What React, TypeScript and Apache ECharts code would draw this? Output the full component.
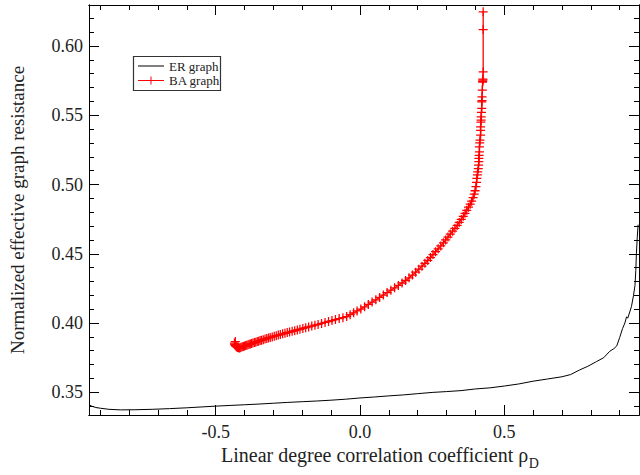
import React, { useEffect, useRef } from "react";
import * as echarts from "echarts";

// ER graph (black line): [rho_D, resistance]
const ER_POINTS = [
  [-0.939, 0.341], [-0.93, 0.34], [-0.915, 0.339], [-0.9, 0.3385], [-0.87, 0.3377], [-0.83, 0.3373], [-0.78, 0.3374],
  [-0.72, 0.3377], [-0.66, 0.3382], [-0.6, 0.3388], [-0.55, 0.3394], [-0.5, 0.34], [-0.45, 0.3405], [-0.4, 0.341],
  [-0.35, 0.3415], [-0.3, 0.3421], [-0.25, 0.3427], [-0.2, 0.3432], [-0.15, 0.3437], [-0.1, 0.3443], [-0.05, 0.345],
  [0.0, 0.3459], [0.05, 0.3466], [0.1, 0.3474], [0.15, 0.3481], [0.2, 0.349], [0.25, 0.3499], [0.3, 0.3505],
  [0.35, 0.3512], [0.4, 0.3524], [0.45, 0.3532], [0.5, 0.3545], [0.55, 0.356], [0.6, 0.358], [0.65, 0.3596],
  [0.7, 0.3612], [0.73, 0.3628], [0.76, 0.366], [0.79, 0.3688], [0.82, 0.3722], [0.845, 0.375], [0.865, 0.3795],
  [0.88, 0.3815], [0.89, 0.3835], [0.9, 0.3895], [0.91, 0.396], [0.918, 0.4], [0.924, 0.4045], [0.928, 0.4035],
  [0.935, 0.408], [0.941, 0.412], [0.948, 0.42], [0.953, 0.427], [0.956, 0.438], [0.958, 0.45], [0.961, 0.462],
  [0.964, 0.471],
];

// BA graph (red line with + markers): [rho_D, resistance]
const BA_POINTS = [
  [-0.432, 0.3866], [-0.435, 0.3855], [-0.434, 0.3845], [-0.432, 0.3838], [-0.43, 0.3832], [-0.427, 0.3827],
  [-0.424, 0.3823], [-0.421, 0.3821], [-0.418, 0.382], [-0.415, 0.3822], [-0.412, 0.3825], [-0.408, 0.3828],
  [-0.404, 0.3831], [-0.4, 0.3834], [-0.396, 0.3837], [-0.392, 0.384], [-0.388, 0.3843], [-0.384, 0.3846],
  [-0.38, 0.3849], [-0.376, 0.3852], [-0.371, 0.3855], [-0.366, 0.3859], [-0.361, 0.3862], [-0.356, 0.3866],
  [-0.351, 0.3869], [-0.346, 0.3873], [-0.341, 0.3876], [-0.335, 0.388], [-0.329, 0.3884], [-0.323, 0.3888],
  [-0.317, 0.3892], [-0.311, 0.3896], [-0.304, 0.39], [-0.297, 0.3905], [-0.29, 0.3909], [-0.283, 0.3913],
  [-0.276, 0.3917], [-0.268, 0.3922], [-0.26, 0.3926], [-0.252, 0.3931], [-0.244, 0.3935], [-0.235, 0.394],
  [-0.226, 0.3945], [-0.217, 0.395], [-0.208, 0.3955], [-0.198, 0.3961], [-0.188, 0.3966], [-0.178, 0.3972],
  [-0.167, 0.3978], [-0.156, 0.3984], [-0.145, 0.399], [-0.133, 0.3997], [-0.121, 0.4004], [-0.109, 0.4011],
  [-0.097, 0.4018], [-0.085, 0.4025], [-0.072, 0.4032], [-0.059, 0.4039], [-0.046, 0.4047], [-0.034, 0.406],
  [-0.022, 0.4074], [-0.01, 0.4087], [0.003, 0.4101], [0.016, 0.4117], [0.029, 0.4134], [0.042, 0.4151],
  [0.055, 0.4168], [0.068, 0.4185], [0.081, 0.4202], [0.094, 0.422], [0.107, 0.4237], [0.12, 0.4254],
  [0.133, 0.4271], [0.146, 0.4289], [0.158, 0.4307], [0.17, 0.4326], [0.182, 0.4346], [0.193, 0.4367],
  [0.204, 0.4389], [0.215, 0.441], [0.225, 0.4431], [0.235, 0.4452], [0.244, 0.4473], [0.253, 0.4494],
  [0.262, 0.4515], [0.271, 0.4536], [0.28, 0.4557], [0.289, 0.4579], [0.297, 0.46], [0.305, 0.4621],
  [0.313, 0.4642], [0.321, 0.4663], [0.329, 0.4684], [0.337, 0.4705], [0.344, 0.4726], [0.351, 0.4748],
  [0.358, 0.477], [0.364, 0.4792], [0.37, 0.4814], [0.376, 0.4836], [0.382, 0.4858], [0.387, 0.488],
  [0.392, 0.4905], [0.396, 0.493], [0.399, 0.4955], [0.402, 0.4985], [0.404, 0.5015], [0.405, 0.5044],
  [0.407, 0.507], [0.408, 0.5092], [0.41, 0.5115], [0.411, 0.514], [0.412, 0.5165], [0.412, 0.5188],
  [0.413, 0.521], [0.414, 0.5235], [0.414, 0.5272], [0.415, 0.53], [0.416, 0.532], [0.418, 0.5356],
  [0.418, 0.539], [0.418, 0.5416], [0.419, 0.545], [0.42, 0.5465], [0.42, 0.5489], [0.421, 0.552],
  [0.422, 0.5549], [0.422, 0.5597], [0.423, 0.5605], [0.423, 0.5633], [0.424, 0.5681], [0.425, 0.574],
  [0.425, 0.5745], [0.426, 0.5753], [0.426, 0.576], [0.427, 0.5814], [0.427, 0.6119], [0.427, 0.6247],
];

// Axis ticks and labels
const X_MAJOR = [-0.5, 0.0, 0.5];
const X_LABELS = ["-0.5", "0.0", "0.5"];
const X_MINOR = [-0.9, -0.8, -0.7, -0.6, -0.4, -0.3, -0.2, -0.1, 0.1, 0.2, 0.3, 0.4, 0.6, 0.7, 0.8, 0.9];
const Y_MAJOR = [0.35, 0.4, 0.45, 0.5, 0.55, 0.6];
const Y_LABELS = ["0.35", "0.40", "0.45", "0.50", "0.55", "0.60"];
const Y_MINOR = [0.34, 0.36, 0.37, 0.38, 0.39, 0.41, 0.42, 0.43, 0.44, 0.46, 0.47, 0.48, 0.49, 0.51, 0.52, 0.53, 0.54, 0.56, 0.57, 0.58, 0.59, 0.61, 0.62];

const X_MIN = -0.939;
const X_MAX = 0.967;
const Y_MIN = 0.3336;
const Y_MAX = 0.6296;

const X_TITLE = "Linear degree correlation coefficient ρ";
const X_TITLE_SUB = "D";
const Y_TITLE = "Normalized effective graph resistance";
const LEGEND = ["ER graph", "BA graph"];

const FONT = "'Liberation Serif', serif";
const PLUS = "path://M0,4.3H10V5.7H0ZM4.3,0H5.7V10H4.3Z";

function measure(text: string, font: string): number {
  const c = document.createElement("canvas").getContext("2d");
  if (!c) return text.length * 8;
  c.font = font;
  return c.measureText(text).width;
}

function axis(position: string, ticks: number[], len: number, min: number, max: number) {
  return {
    type: "value",
    position,
    min,
    max,
    axisLine: { show: true, onZero: false, lineStyle: { color: "#000", width: 1 } },
    axisTick: { show: true, inside: true, length: len, customValues: ticks, lineStyle: { color: "#000", width: 1 } },
    axisLabel: { show: false },
    splitLine: { show: false },
  };
}

function txt(x: number, y: number, text: string, font: string, align: string, vAlign: string, extra: any = {}) {
  return {
    type: "text",
    x,
    y,
    ...extra,
    style: { text, font, fill: "#222", align, verticalAlign: vAlign, textAlign: align, textVerticalAlign: vAlign },
  };
}

export default function App() {
  const ref = useRef<HTMLDivElement>(null);
  useEffect(() => {
    document.body.style.margin = "0";
    if (!ref.current) return;
    const chart = echarts.init(ref.current, null, { renderer: "svg" });
    chart.setOption({
      animation: false,
      backgroundColor: "#fff",
      textStyle: { fontFamily: FONT },
      grid: { left: 89, top: 5, right: 1, bottom: 60, containLabel: false, outerBoundsMode: "none" },
      xAxis: [
        axis("bottom", X_MAJOR, 10, X_MIN, X_MAX),
        axis("bottom", X_MINOR, 5, X_MIN, X_MAX),
        axis("top", X_MAJOR, 10, X_MIN, X_MAX),
        axis("top", X_MINOR, 5, X_MIN, X_MAX),
      ],
      yAxis: [
        axis("left", Y_MAJOR, 10, Y_MIN, Y_MAX),
        axis("left", Y_MINOR, 5, Y_MIN, Y_MAX),
        axis("right", Y_MAJOR, 10, Y_MIN, Y_MAX),
        axis("right", Y_MINOR, 5, Y_MIN, Y_MAX),
      ],
      series: [
        {
          name: LEGEND[0],
          type: "line",
          data: ER_POINTS,
          xAxisIndex: 0,
          yAxisIndex: 0,
          showSymbol: false,
          lineStyle: { color: "#000", width: 1 },
          itemStyle: { color: "#000" },
        },
        {
          name: LEGEND[1],
          type: "line",
          data: BA_POINTS,
          xAxisIndex: 0,
          yAxisIndex: 0,
          symbol: PLUS,
          symbolSize: 9,
          showAllSymbol: true,
          lineStyle: { color: "#f00", width: 1.3 },
          itemStyle: { color: "#f00" },
        },
      ],
    });

    // tick labels placed through the axes' own scales
    const tickFont = `18px ${FONT}`;
    const labelEls: any[] = [];
    X_MAJOR.forEach((v, i) => {
      const p = chart.convertToPixel({ xAxisIndex: 0, yAxisIndex: 0 }, [v, Y_MIN]) as number[];
      labelEls.push(txt(p[0], p[1] + 8, X_LABELS[i], tickFont, "center", "top"));
    });
    Y_MAJOR.forEach((v, i) => {
      const p = chart.convertToPixel({ xAxisIndex: 0, yAxisIndex: 0 }, [X_MIN, v]) as number[];
      labelEls.push(txt(p[0] - 6, p[1], Y_LABELS[i], tickFont, "right", "middle"));
    });

    const xTitleFont = `20px ${FONT}`;
    const yTitleFont = `19px ${FONT}`;
    const titleW = measure(X_TITLE, xTitleFont);
    const titleX = 221;
    const titleY = 455;
    const legFont = `13px ${FONT}`;

    chart.setOption({
      graphic: [
        ...labelEls,
        txt(titleX, titleY, X_TITLE, xTitleFont, "left", "middle"),
        txt(titleX + titleW + 0.5, titleY + 8, X_TITLE_SUB, `14px ${FONT}`, "left", "middle"),
        txt(17, 210, Y_TITLE, yTitleFont, "center", "middle", { rotation: Math.PI / 2 }),
        {
          type: "rect",
          z: 100,
          shape: { x: 133.5, y: 56.5, width: 87, height: 34 },
          style: { fill: "#fff", stroke: "#333", lineWidth: 1.2 },
        },
        { type: "line", z: 101, shape: { x1: 138, y1: 66, x2: 164, y2: 66 }, style: { stroke: "#000", lineWidth: 1 } },
        { type: "line", z: 101, shape: { x1: 138, y1: 80.5, x2: 164, y2: 80.5 }, style: { stroke: "#f00", lineWidth: 1 } },
        { type: "line", z: 101, shape: { x1: 151, y1: 76.5, x2: 151, y2: 84.5 }, style: { stroke: "#f00", lineWidth: 1 } },
        txt(169, 66, LEGEND[0], legFont, "left", "middle", { z: 101 }),
        txt(169, 80.5, LEGEND[1], legFont, "left", "middle", { z: 101 }),
      ],
    });
    return () => chart.dispose();
  }, []);
  return <div ref={ref} style={{ width: 640, height: 475 }} />;
}
